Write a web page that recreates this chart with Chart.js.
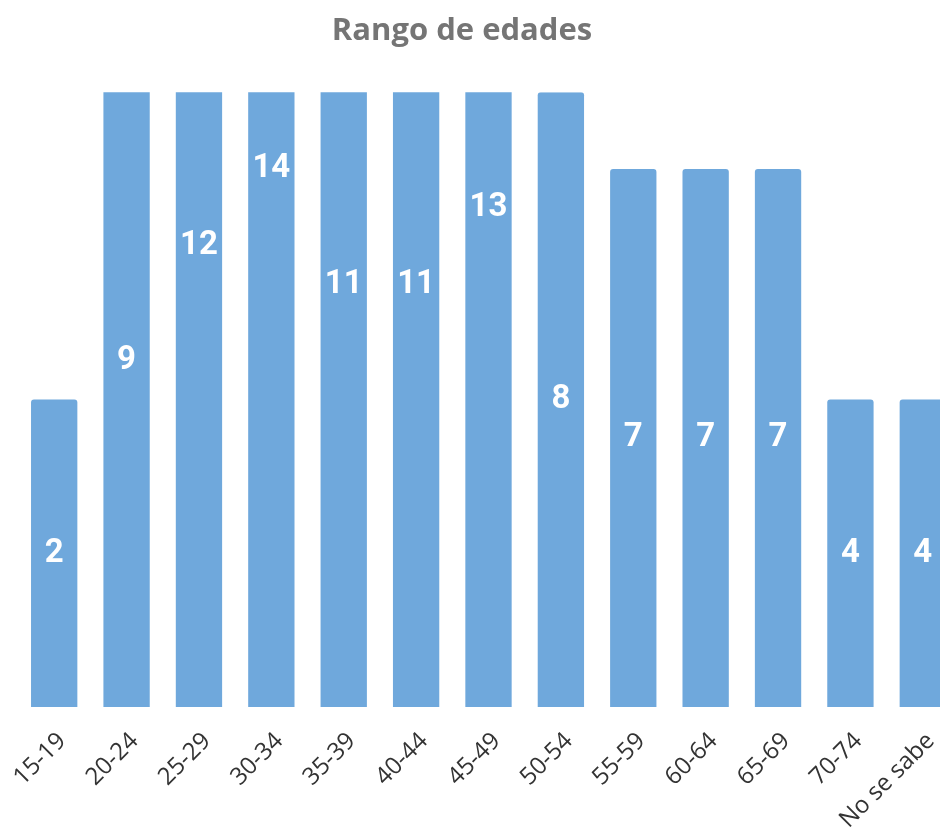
<!DOCTYPE html>
<html>
<head>
<meta charset="utf-8">
<script src="https://cdn.jsdelivr.net/npm/chart.js@4.4.0/dist/chart.umd.min.js"></script>
<style>
  html, body { margin: 0; padding: 0; background: #fff; overflow: hidden; }
  #wrap { position: absolute; left: -35px; top: 0; }
</style>
</head>
<body>
<div id="wrap"><canvas id="edades" width="994" height="829"></canvas></div>
<script>
// Data ==========================================
var categories = ["15-19", "20-24", "25-29", "30-34", "35-39", "40-44", "45-49",
  "50-54", "55-59", "60-64", "65-69", "70-74", "No se sabe"];
// bar heights as drawn (axis stops at 8, taller bars get cut)
var barValues = [4, 9, 12, 14, 11, 11, 13, 8, 7, 7, 7, 4, 4];
// numbers printed on the bars
var barLabels = ["2", "9", "12", "14", "11", "11", "13", "8", "7", "7", "7", "4", "4"];
var yMin = 0;
var yMax = 8;

// plugin block: value in the middle of each (unclipped) bar
const barText = {
  id: "barText",
  afterDatasetsDraw(chart) {
    const { ctx } = chart;
    const meta = chart.getDatasetMeta(0);
    ctx.save();
    ctx.font = "bold 33px Roboto";
    ctx.fillStyle = "#ffffff";
    ctx.textAlign = "center";
    ctx.textBaseline = "middle";
    meta.data.forEach(function (bar, i) {
      const mid = (bar.y + bar.base) / 2;
      ctx.fillText(barLabels[i], bar.x, mid);
    });
    ctx.restore();
  },
};

// config
const edadesChart = {
  type: "bar",
  data: {
    labels: categories,
    datasets: [
      {
        label: "Rango de edades",
        data: barValues,
        backgroundColor: "#6fa8dc",
        borderRadius: 3,
        barPercentage: 0.8,
        categoryPercentage: 0.8,
      },
    ],
  },
  options: {
    responsive: false,
    animation: false,
    plugins: {
      legend: { display: false },
      tooltip: { enabled: false },
      title: {
        display: true,
        text: "Rango de edades",
        color: "#757575",
        font: { family: "'Open Sans'", size: 31, weight: "bold" },
        padding: { top: 13, bottom: 42 },
      },
    },
    scales: {
      x: {
        grid: { display: false },
        border: { display: false },
        ticks: {
          autoSkip: false,
          minRotation: 45,
          maxRotation: 45,
          padding: 12,
          labelOffset: 8,
          color: "#333333",
          font: { family: "'Open Sans'", size: 24 },
        },
        afterFit(scale) {
          scale.height = 122;
        },
      },
      y: {
        min: yMin,
        max: yMax,
        grid: { display: false },
        border: { display: false },
        ticks: { display: false },
        afterFit(scale) {
          scale.width = 53;
        },
      },
    },
  },
  plugins: [barText],
};

// render
const myChart = new Chart(document.getElementById("edades"), edadesChart);
</script>
</body>
</html>
